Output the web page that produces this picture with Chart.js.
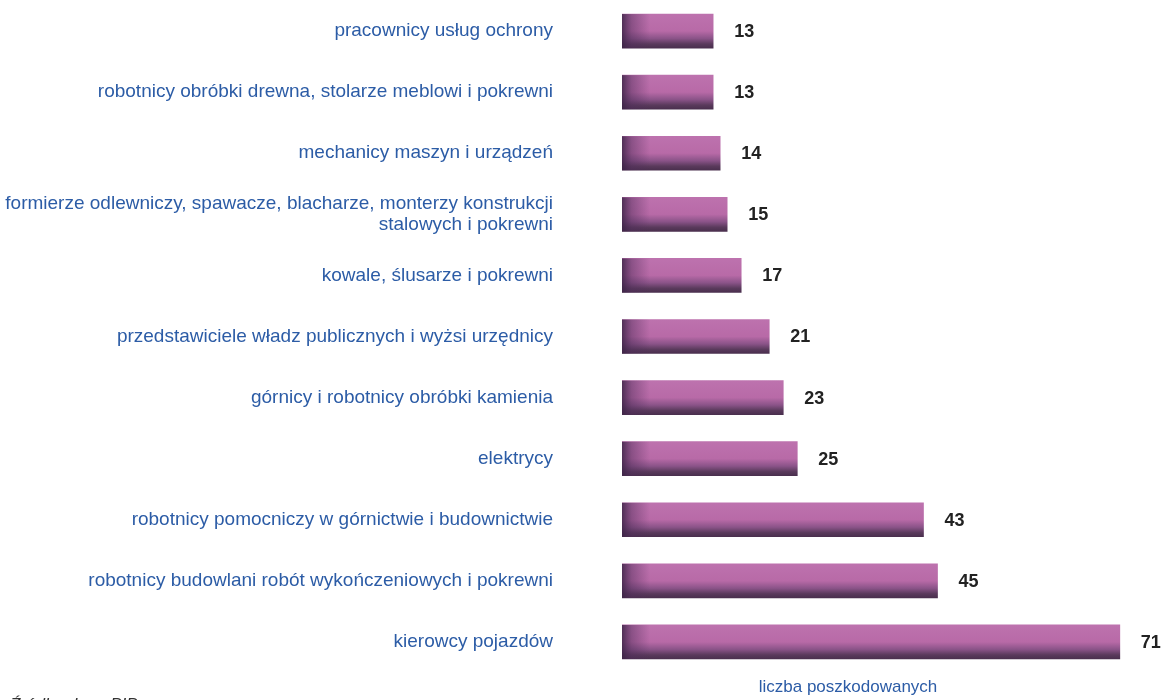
<!DOCTYPE html>
<html>
<head>
<meta charset="utf-8">
<script src="https://cdn.jsdelivr.net/npm/chart.js@4.4.1/dist/chart.umd.min.js"></script>
<style>
  html, body { margin: 0; padding: 0; background: #fff; }
  #wrap { width: 1164px; height: 700px; position: relative; }
</style>
</head>
<body>
<div id="wrap"><canvas id="injuriesChart"></canvas></div>
<script>
// Poszkodowani w wypadkach wg grup zawodów
const occupations = [
  'pracownicy usług ochrony',
  'robotnicy obróbki drewna, stolarze meblowi i pokrewni',
  'mechanicy maszyn i urządzeń',
  ['formierze odlewniczy, spawacze, blacharze, monterzy konstrukcji', 'stalowych i pokrewni'],
  'kowale, ślusarze i pokrewni',
  'przedstawiciele władz publicznych i wyżsi urzędnicy',
  'górnicy i robotnicy obróbki kamienia',
  'elektrycy',
  'robotnicy pomocniczy w górnictwie i budownictwie',
  'robotnicy budowlani robót wykończeniowych i pokrewni',
  'kierowcy pojazdów'
];
const injured = [13, 13, 14, 15, 17, 21, 23, 25, 43, 45, 71];

const axisTitle = 'liczba poszkodowanych';
const sourceNote = 'Źródło: dane PIP';

const FONT = '"Liberation Sans", Arial, Helvetica, sans-serif';
const BLUE = '#2c5ca6';
const BAR_H = 34;

function barFill(ctx) {
  const chart = ctx.chart;
  const y = chart.scales.y ? chart.scales.y.getPixelForValue(ctx.dataIndex) : NaN;
  if (!isFinite(y)) return '#b96ea9';
  const g = chart.ctx.createLinearGradient(0, y - BAR_H / 2, 0, y + BAR_H / 2);
  g.addColorStop(0, '#bd72ae');
  g.addColorStop(0.5, '#b86aa7');
  g.addColorStop(0.72, '#8a5388');
  g.addColorStop(0.88, '#5a3a5c');
  g.addColorStop(1, '#4a2f4e');
  return g;
}

// dark shading on the left end of each bar + value labels
const barExtras = {
  id: 'barExtras',
  afterDatasetsDraw(chart) {
    const c = chart.ctx;
    const meta = chart.getDatasetMeta(0);
    c.save();
    meta.data.forEach((bar, i) => {
      const top = bar.y - BAR_H / 2;
      const g = c.createLinearGradient(bar.base, 0, bar.base + 28, 0);
      g.addColorStop(0, 'rgba(60,35,70,0.85)');
      g.addColorStop(0.35, 'rgba(80,45,90,0.45)');
      g.addColorStop(1, 'rgba(80,45,90,0)');
      c.fillStyle = g;
      c.fillRect(bar.base, top, 28, BAR_H);

      c.fillStyle = '#222';
      c.font = 'bold 18px ' + FONT;
      c.textAlign = 'left';
      c.textBaseline = 'middle';
      c.fillText(String(injured[i]), bar.x + 21, bar.y + 1);
    });

    c.fillStyle = BLUE;
    c.font = '17px ' + FONT;
    c.textAlign = 'center';
    c.textBaseline = 'middle';
    c.fillText(axisTitle, 848, 687);

    c.fillStyle = '#333';
    c.font = 'italic 17px ' + FONT;
    c.textAlign = 'left';
    c.textBaseline = 'alphabetic';
    c.fillText(sourceNote, 10, 710);
    c.restore();
  }
};

new Chart(document.getElementById('injuriesChart').getContext('2d'), {
  type: 'bar',
  data: {
    labels: occupations,
    datasets: [{
      data: injured,
      backgroundColor: barFill,
      borderWidth: 0,
      barThickness: BAR_H
    }]
  },
  options: {
    indexAxis: 'y',
    responsive: true,
    maintainAspectRatio: false,
    animation: false,
    layout: { padding: { top: 0.5, bottom: 27.5, left: 0, right: 0 } },
    plugins: {
      legend: { display: false },
      tooltip: { enabled: false }
    },
    scales: {
      x: { display: false, min: 0, max: 77.3 },
      y: {
        afterFit(scale) {
          scale.width = 622;
          scale.paddingTop = 0;
          scale.paddingBottom = 0;
        },
        grid: { display: false, drawTicks: false },
        border: { display: false },
        ticks: {
          color: BLUE,
          padding: 69,
          font: { family: FONT, size: 19, lineHeight: 1.12 }
        }
      }
    }
  },
  plugins: [barExtras]
});
</script>
</body>
</html>
